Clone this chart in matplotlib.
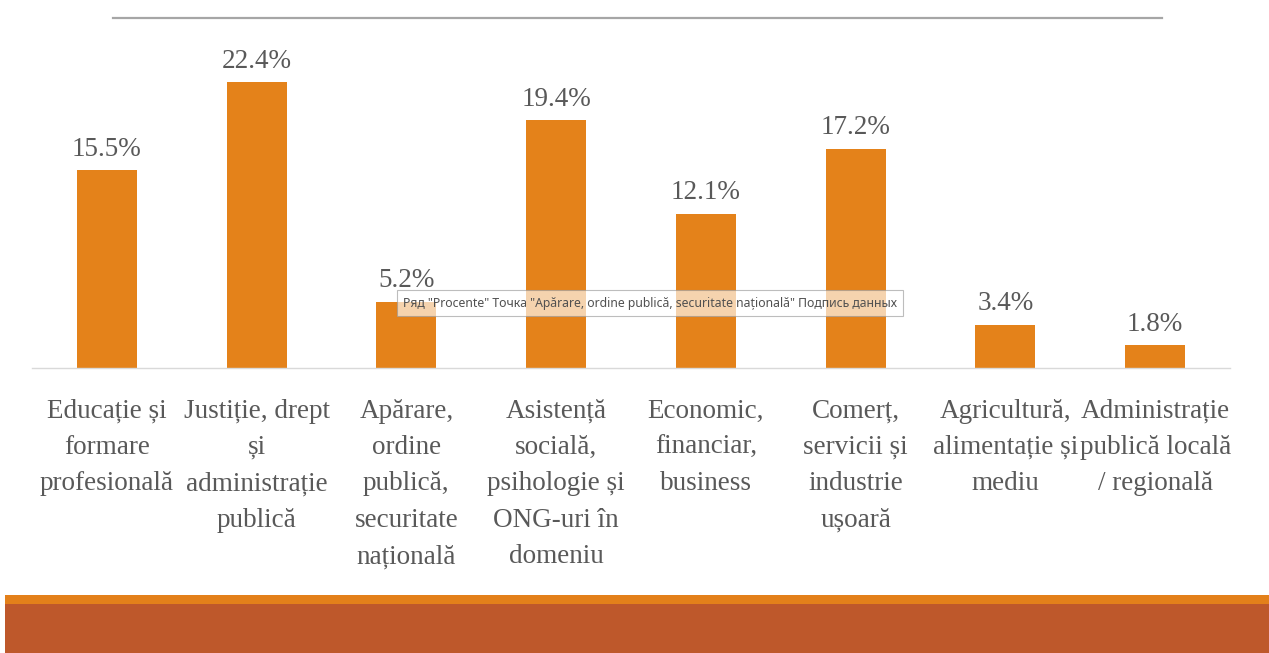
import matplotlib
matplotlib.use('Agg')

import matplotlib.pyplot as plt
from matplotlib.lines import Line2D
from matplotlib.patches import Rectangle

# ============================================================================
# DATA
# ============================================================================
categories = [
    "Educație și\nformare\nprofesională",
    "Justiție, drept\nși\nadministrație\npublică",
    "Apărare,\nordine\npublică,\nsecuritate\nnațională",
    "Asistență\nsocială,\npsihologie și\nONG-uri în\ndomeniu",
    "Economic,\nfinanciar,\nbusiness",
    "Comerț,\nservicii și\nindustrie\nușoară",
    "Agricultură,\nalimentație și\nmediu",
    "Administrație\npublică locală\n/ regională",
]
procente = [15.5, 22.4, 5.2, 19.4, 12.1, 17.2, 3.4, 1.8]
tooltip = 'Ряд "Procente" Точка "Apărare, ordine publică, securitate națională" Подпись данных'

# ============================================================================
# STYLE
# ============================================================================
W, H = 1269, 653
BAR = '#E4821A'
TEXT = '#595959'
SERIF = ['Liberation Serif', 'DejaVu Serif']

fig = plt.figure(figsize=(W / 100, H / 100), dpi=100)

# axes: baseline at y=368 px, x from 32 to 1230 px
left, right, bottom, top = 32, 1230, 368, 49
ax = fig.add_axes([left / W, 1 - bottom / H, (right - left) / W, (bottom - top) / H])
ax.set_xlim(-0.5, len(procente) - 0.5)
ax.set_ylim(0, 25)

xs = range(len(procente))
ax.bar(xs, procente, width=0.4, color=BAR, zorder=2)

for x, v in zip(xs, procente):
    ax.annotate(f"{v:.1f}%", (x, v), xytext=(0, 6), textcoords='offset points',
                ha='center', va='bottom', fontsize=19.5, color=TEXT, family=SERIF)

for s in ['top', 'right', 'left']:
    ax.spines[s].set_visible(False)
ax.spines['bottom'].set_color('#D9D9D9')
ax.spines['bottom'].set_linewidth(1)
ax.set_yticks([])
ax.set_xticks(list(xs))
ax.set_xticklabels(categories, fontsize=19.5, color=TEXT, family=SERIF,
                   linespacing=1.6)
ax.tick_params(axis='x', length=0, pad=22)

# thin line under the (cut-off) title
fig.add_artist(Line2D([113 / W, 1162 / W], [1 - 18 / H, 1 - 18 / H],
                      color='#A6A6A6', linewidth=1.6))

# slide footer bands
fig.add_artist(Rectangle((5 / W, 0), 1 - 5 / W, (653 - 604) / H,
                         transform=fig.transFigure, color='#BE582B', lw=0))
fig.add_artist(Rectangle((5 / W, (653 - 604) / H), 1 - 5 / W, 9 / H,
                         transform=fig.transFigure, color='#E3801A', lw=0))

# tooltip
fig.text(403 / W, 1 - 303 / H, tooltip, fontsize=8.8, color='#505050',
         family=['Noto Sans', 'DejaVu Sans'], ha='left', va='center',
         bbox=dict(boxstyle='square,pad=0.5', facecolor='white', alpha=0.65,
                   edgecolor='#9A9A9A', linewidth=0.8))

fig.savefig('out.png', dpi=100)
